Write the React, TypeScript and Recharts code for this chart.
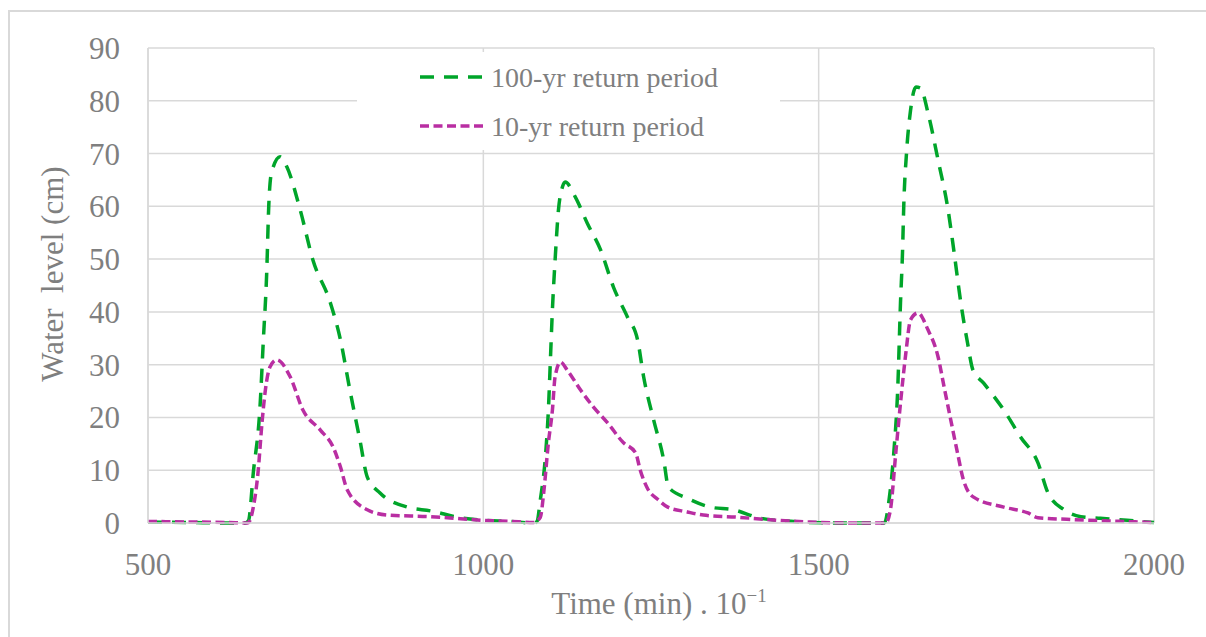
import React from 'react';
import { LineChart, Line, XAxis, YAxis, CartesianGrid, Legend, Label } from 'recharts';

// 100-yr return period (green)
const time100 = [
  500, 560, 620, 645, 650, 657, 667, 672, 677, 680, 684, 697, 707, 727, 746, 772, 787, 801, 816, 827,
  846, 887, 921, 966, 1001, 1040, 1075, 1080, 1085, 1093, 1097, 1100, 1103, 1107, 1112, 1118, 1122,
  1137, 1155, 1175, 1194, 1215, 1230, 1239, 1254, 1269, 1276, 1304, 1339, 1373, 1413, 1450, 1484,
  1540, 1598, 1605, 1612, 1618, 1622, 1625, 1627, 1631, 1637, 1645, 1652, 1663, 1678, 1693, 1702,
  1712, 1722, 1730, 1746, 1776, 1801, 1827, 1842, 1866, 1891, 1920, 1960, 2000,
];
const level100 = [
  0.2, 0.1, 0, 0, 0.5, 9.5, 22, 34.7, 47.4, 59.9, 66.3, 69.4, 67.5, 59.3, 49.8, 41.7, 34.7, 25.2, 15.7, 8.7,
  5.7, 3.0, 2.3, 1.0, 0.5, 0.3, 0, 0.3, 4.4, 13.3, 21.4, 30.9, 40.4, 49.8, 59.3, 63.7, 64.6,
  61.8, 56.8, 51.7, 44.7, 39, 34.7, 27.7, 19.5, 11.9, 6.8, 4.7, 3.0, 2.5, 0.9, 0.4, 0.1,
  0, 0, 4.4, 13.3, 25.8, 41.7, 51.2, 60.6, 70.1, 78.2, 82.6, 82.4, 77.7, 68.8, 59.3, 51.2,
  41.7, 34.1, 29, 26.5, 21.4, 16.3, 11.4, 5.7, 2.5, 1.2, 0.9, 0.5, 0.1,
];

// 10-yr return period (magenta)
const time10 = [
  500, 560, 620, 648, 652, 657, 664, 670, 675, 682, 692, 712, 731, 757, 776, 787, 797, 827, 857, 921,
  966, 1000, 1040, 1075, 1085, 1090, 1097, 1103, 1107, 1115, 1125, 1145, 1164, 1185, 1209, 1227, 1234,
  1245, 1260, 1275, 1304, 1328, 1379, 1428, 1503, 1560, 1600, 1607, 1615, 1622, 1630, 1637, 1648,
  1663, 1678, 1687, 1697, 1707, 1716, 1731, 1776, 1812, 1827, 1870, 1930, 2000,
];
const level10 = [
  0.3, 0.2, 0.1, 0, 0.5, 3, 9.5, 19, 25.2, 29.6, 30.9, 27.7, 21.4, 17.6, 14.4, 10.6, 6.3, 2.5, 1.5, 1.2,
  0.8, 0.5, 0.3, 0.1, 1.1, 5.7, 15.2, 21.4, 27.7, 30.5, 29, 25.2, 22, 19, 15.2, 13.3, 10,
  6.5, 4.5, 3.0, 2.1, 1.5, 1.1, 0.6, 0.1, 0, 0, 2.5, 13.3, 22.7, 32.2, 38.5, 39.8,
  36.6, 31.5, 25.8, 19.5, 13.3, 8.1, 4.9, 3.0, 1.9, 1.0, 0.7, 0.4, 0.1,
];

const xTicks = [500, 1000, 1500, 2000];
const yTicks = [0, 10, 20, 30, 40, 50, 60, 70, 80, 90];

const GREEN = '#00a52a';
const MAGENTA = '#b92ea2';
const GREY = '#7f7f7f';
const GRID = '#d9d9d9';
const FONT = "'Times New Roman', 'Liberation Serif', serif";

const data100 = time100.map((t, i) => ({ t, v: level100[i] }));
const data10 = time10.map((t, i) => ({ t, v: level10[i] }));

const series = [
  { name: '100-yr return period', color: GREEN, dash: '14 10' },
  { name: '10-yr return period', color: MAGENTA, dash: '9 4.5' },
];

function renderLegend() {
  return (
    <svg width={423} height={98} style={{ display: 'block' }}>
      {series.map((s, i) => (
        <g key={s.name}>
          <line
            x1={63}
            x2={126}
            y1={25 + i * 49}
            y2={25 + i * 49}
            stroke={s.color}
            strokeWidth={3.5}
            strokeDasharray={s.dash}
          />
          <text x={134} y={25 + i * 49} dy="0.35em" fill={GREY} fontSize={28} fontFamily={FONT}>
            {s.name}
          </text>
        </g>
      ))}
    </svg>
  );
}

export default function App() {
  const tick = { fill: GREY, fontSize: 31, fontFamily: FONT };
  return (
    <div
      style={{
        position: 'absolute',
        left: 8,
        top: 10,
        width: 1198,
        height: 627,
        boxSizing: 'border-box',
        borderTop: `2px solid ${GRID}`,
        borderLeft: `2px solid ${GRID}`,
        background: '#fff',
      }}
    >
      <LineChart width={1190} height={620} margin={{ top: 36, right: 46, bottom: 0, left: 78 }}>
        <CartesianGrid stroke={GRID} strokeWidth={1.5} />
        <XAxis
          type="number"
          dataKey="t"
          domain={[500, 2000]}
          ticks={xTicks}
          height={109}
          tick={tick}
          tickLine={false}
          tickSize={0}
          tickMargin={30}
          axisLine={{ stroke: GRID, strokeWidth: 1.5 }}
          allowDuplicatedCategory={false}
        >
          <Label
            content={() => (
              <text x={649} y={602} textAnchor="middle" fill={GREY} fontSize={31} fontFamily={FONT}>
                Time (min) . 10
                <tspan fontSize={19} dy={-12}>
                  −1
                </tspan>
              </text>
            )}
          />
        </XAxis>
        <YAxis
          type="number"
          domain={[0, 90]}
          ticks={yTicks}
          width={60}
          tick={tick}
          tickLine={false}
          tickSize={0}
          tickMargin={28}
          axisLine={{ stroke: GRID, strokeWidth: 1.5 }}
        >
          <Label
            content={() => (
              <text
                x={42}
                y={262}
                transform="rotate(-90 42 262)"
                textAnchor="middle"
                dominantBaseline="central"
                fill={GREY}
                fontSize={31}
                fontFamily={FONT}
                style={{ whiteSpace: 'pre' }}
              >
                Water  level (cm)
              </text>
            )}
          />
        </YAxis>
        <Legend
          layout="horizontal"
          verticalAlign="middle"
          align="center"
          content={renderLegend}
          wrapperStyle={{ position: 'absolute', left: 347, top: 40, width: 423, height: 98, background: '#fff' }}
        />
        <Line
          data={data100}
          dataKey="v"
          name="100-yr return period"
          type="monotone"
          stroke={GREEN}
          strokeWidth={3.5}
          strokeDasharray="14 10"
          dot={false}
          activeDot={false}
          isAnimationActive={false}
        />
        <Line
          data={data10}
          dataKey="v"
          name="10-yr return period"
          type="monotone"
          stroke={MAGENTA}
          strokeWidth={3.5}
          strokeDasharray="9 4.5"
          dot={false}
          activeDot={false}
          isAnimationActive={false}
        />
      </LineChart>
    </div>
  );
}
